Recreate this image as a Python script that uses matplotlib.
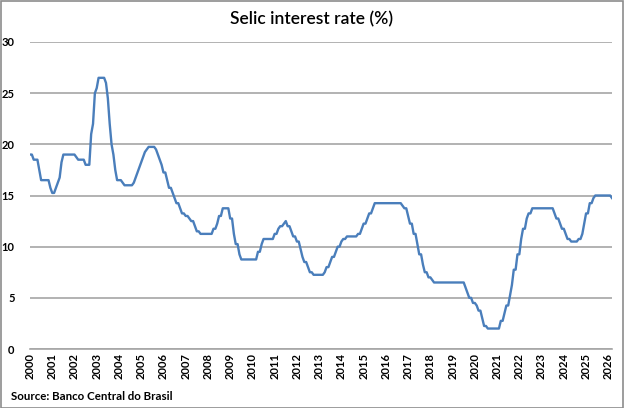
import matplotlib
matplotlib.use("Agg")
import matplotlib.pyplot as plt
from matplotlib.patches import Rectangle

plt.rcParams['font.family'] = ['Lato', 'DejaVu Sans']

# Monthly Selic rate (%), Jan 2000 onward
selic_2000 = [19.00, 19.00, 18.50, 18.50, 18.50, 17.50, 16.50, 16.50, 16.50, 16.50, 16.50, 15.75]
selic_2001 = [15.25, 15.25, 15.75, 16.25, 16.75, 18.25, 19.00, 19.00, 19.00, 19.00, 19.00, 19.00]
selic_2002 = [19.00, 18.75, 18.50, 18.50, 18.50, 18.50, 18.00, 18.00, 18.00, 21.00, 22.00, 25.00]
selic_2003 = [25.50, 26.50, 26.50, 26.50, 26.50, 26.00, 24.50, 22.00, 20.00, 19.00, 17.50, 16.50]
selic_2004 = [16.50, 16.50, 16.25, 16.00, 16.00, 16.00, 16.00, 16.00, 16.25, 16.75, 17.25, 17.75]
selic_2005 = [18.25, 18.75, 19.25, 19.50, 19.75, 19.75, 19.75, 19.75, 19.50, 19.00, 18.50, 18.00]
selic_2006 = [17.25, 17.25, 16.50, 15.75, 15.75, 15.25, 14.75, 14.25, 14.25, 13.75, 13.25, 13.25]
selic_2007 = [13.00, 13.00, 12.75, 12.50, 12.50, 12.00, 11.50, 11.50, 11.25, 11.25, 11.25, 11.25]
selic_2008 = [11.25, 11.25, 11.25, 11.75, 11.75, 12.25, 13.00, 13.00, 13.75, 13.75, 13.75, 13.75]
selic_2009 = [12.75, 12.75, 11.25, 10.25, 10.25, 9.25, 8.75, 8.75, 8.75, 8.75, 8.75, 8.75]
selic_2010 = [8.75, 8.75, 8.75, 9.50, 9.50, 10.25, 10.75, 10.75, 10.75, 10.75, 10.75, 10.75]
selic_2011 = [11.25, 11.25, 11.75, 12.00, 12.00, 12.25, 12.50, 12.00, 12.00, 11.50, 11.00, 11.00]
selic_2012 = [10.50, 10.50, 9.75, 9.00, 8.50, 8.50, 8.00, 7.50, 7.50, 7.25, 7.25, 7.25]
selic_2013 = [7.25, 7.25, 7.25, 7.50, 8.00, 8.00, 8.50, 9.00, 9.00, 9.50, 10.00, 10.00]
selic_2014 = [10.50, 10.75, 10.75, 11.00, 11.00, 11.00, 11.00, 11.00, 11.00, 11.25, 11.25, 11.75]
selic_2015 = [12.25, 12.25, 12.75, 13.25, 13.25, 13.75, 14.25, 14.25, 14.25, 14.25, 14.25, 14.25]
selic_2016 = [14.25, 14.25, 14.25, 14.25, 14.25, 14.25, 14.25, 14.25, 14.25, 14.00, 13.75, 13.75]
selic_2017 = [13.00, 12.25, 12.25, 11.25, 11.25, 10.25, 9.25, 9.25, 8.25, 7.50, 7.50, 7.00]
selic_2018 = [7.00, 6.75, 6.50, 6.50, 6.50, 6.50, 6.50, 6.50, 6.50, 6.50, 6.50, 6.50]
selic_2019 = [6.50, 6.50, 6.50, 6.50, 6.50, 6.50, 6.50, 6.00, 5.50, 5.00, 5.00, 4.50]
selic_2020 = [4.50, 4.25, 3.75, 3.75, 3.00, 2.25, 2.25, 2.00, 2.00, 2.00, 2.00, 2.00]
selic_2021 = [2.00, 2.00, 2.75, 2.75, 3.50, 4.25, 4.25, 5.25, 6.25, 7.75, 7.75, 9.25]
selic_2022 = [9.25, 10.75, 11.75, 11.75, 12.75, 13.25, 13.25, 13.75, 13.75, 13.75, 13.75, 13.75]
selic_2023 = [13.75, 13.75, 13.75, 13.75, 13.75, 13.75, 13.75, 13.25, 12.75, 12.75, 12.25, 11.75]
selic_2024 = [11.75, 11.25, 10.75, 10.75, 10.50, 10.50, 10.50, 10.50, 10.75, 10.75, 11.25, 12.25]
selic_2025 = [13.25, 13.25, 14.25, 14.25, 14.75, 15.00, 15.00, 15.00, 15.00, 15.00, 15.00, 15.00]
selic_2026 = [15.00, 15.00, 14.75]

series = (selic_2000 + selic_2001 + selic_2002 + selic_2003 + selic_2004 + selic_2005 +
          selic_2006 + selic_2007 + selic_2008 + selic_2009 + selic_2010 + selic_2011 +
          selic_2012 + selic_2013 + selic_2014 + selic_2015 + selic_2016 + selic_2017 +
          selic_2018 + selic_2019 + selic_2020 + selic_2021 + selic_2022 + selic_2023 +
          selic_2024 + selic_2025 + selic_2026)

year_labels = [str(y) for y in range(2000, 2027)]
y_ticks = [0, 5, 10, 15, 20, 25, 30]

W, H = 624, 408
fig = plt.figure(figsize=(W / 100, H / 100), dpi=100)
fig.patch.set_facecolor('white')

left, right, top, bottom = 30, 612, 42, 349
ax = fig.add_axes([left / W, 1 - bottom / H, (right - left) / W, (bottom - top) / H])

x = list(range(len(series)))
ax.plot(x, series, color='#4A7EBB', lw=1.7, solid_joinstyle='round', zorder=3)

ax.set_ylim(0, 30)
ax.set_xlim(0, len(series) - 1)
ax.set_yticks(y_ticks)
ax.set_yticklabels([str(v) for v in y_ticks], fontsize=8, fontweight='bold')
ax.set_xticks([12 * i for i in range(len(year_labels))])
ax.set_xticklabels(year_labels, rotation=90, fontsize=8, fontweight='bold')
ax.tick_params(axis='both', length=0, pad=3, colors='black')
ax.tick_params(axis='y', pad=11)
ax.yaxis.grid(True, color='#A6A6A6', lw=1.2)
ax.set_axisbelow(True)
for s in ['left', 'right', 'top']:
    ax.spines[s].set_visible(False)
ax.spines['bottom'].set_color('#A6A6A6')
ax.spines['bottom'].set_linewidth(1.2)

fig.text(0.5, 1 - 19 / H, 'Selic interest rate (%)', ha='center', va='center', fontsize=12.5,
         fontweight='semibold')
fig.text(11 / W, 1 - 396 / H, 'Source: Banco Central do Brasil', ha='left', va='center',
         fontsize=8.3, fontweight='bold')

fig.add_artist(Rectangle((0.5 / W, 0.5 / H), 1 - 1.5 / W, 1 - 1.5 / H, transform=fig.transFigure,
                         fill=False, edgecolor='#8C8C8C', lw=1.2))

fig.savefig('out.png', dpi=100)
